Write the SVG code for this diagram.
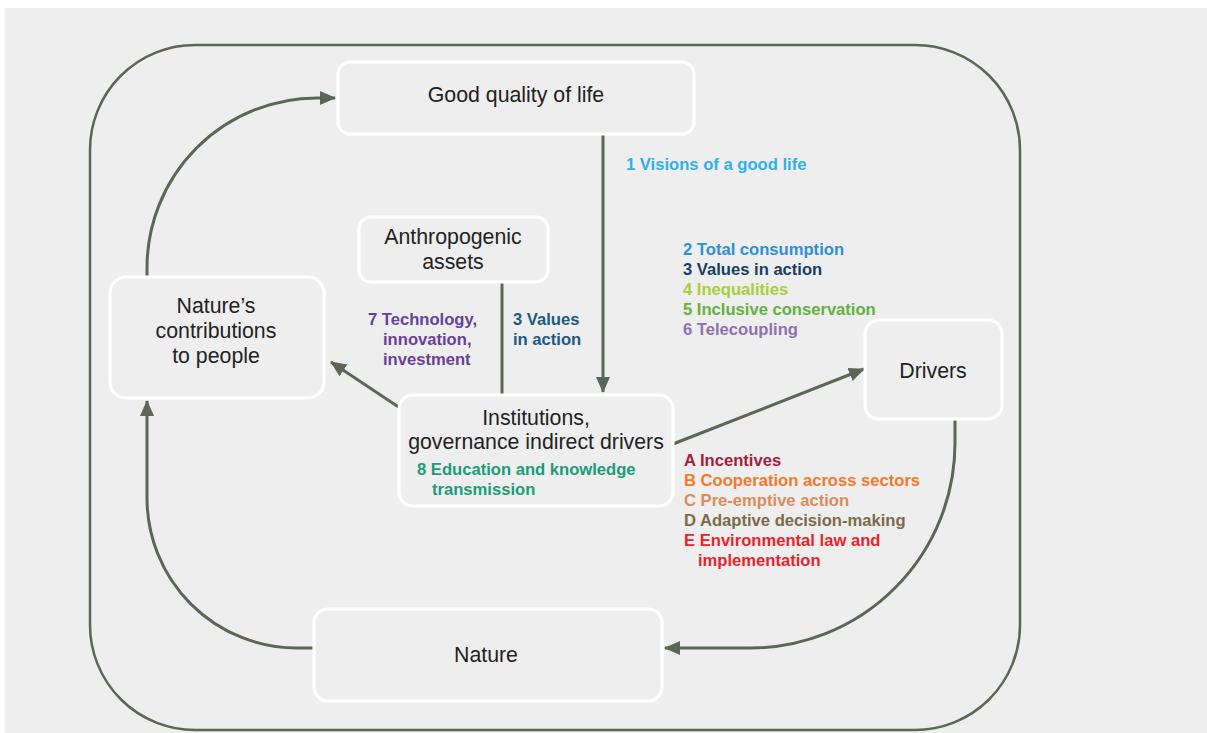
<svg xmlns="http://www.w3.org/2000/svg" width="1207" height="733" viewBox="0 0 1207 733">
<style>
.node rect{fill:#eeeeee;stroke:#ffffff;stroke-width:3}
.nt{font-family:"Liberation Sans",Arial,sans-serif;font-size:21.3px;fill:#222222;text-anchor:middle}
.lb{font-family:"Liberation Sans",Arial,sans-serif;font-size:16.6px;font-weight:bold}
.con{fill:none;stroke:#5b6657;stroke-width:3}
</style>
<defs>
<marker id="ah" markerUnits="userSpaceOnUse" markerWidth="16" markerHeight="16" viewBox="0 0 16 16" refX="15" refY="8" orient="auto">
<path d="M0,1 L16,8 L0,15 Z" fill="#5b6657"/>
</marker>
</defs>
<rect x="5" y="8" width="1202" height="725" fill="#eeeeee"/>
<rect x="90" y="45" width="930" height="685" rx="105" ry="105" fill="none" stroke="#5b6657" stroke-width="2.5"/>
<g id="connectors">
<path class="con" d="M147,276 L147,268 A170,170 0 0 1 317,98 L335,98" marker-end="url(#ah)"/>
<path class="con" d="M603,135 L603,392" marker-end="url(#ah)"/>
<path class="con" d="M502,282 L502,395"/>
<path class="con" d="M400,408 L331,362" marker-end="url(#ah)"/>
<path class="con" d="M673,444 L864,369" marker-end="url(#ah)"/>
<path class="con" d="M955,419 L955,443 A205,205 0 0 1 750,648 L665,648" marker-end="url(#ah)"/>
<path class="con" d="M314,648 L297,648 A150,150 0 0 1 147,498 L147,401" marker-end="url(#ah)"/>
</g>
<g id="good-quality-of-life" class="node">
<rect x="338" y="62" width="356" height="72" rx="12"/>
<text class="nt" x="516" y="102">Good quality of life</text>
</g>
<g id="anthropogenic-assets" class="node">
<rect x="359" y="217" width="189" height="65" rx="12"/>
<text class="nt" x="453" y="244">Anthropogenic</text>
<text class="nt" x="453" y="269">assets</text>
</g>
<g id="ncp" class="node">
<rect x="110" y="277" width="214" height="121" rx="16"/>
<text class="nt" x="216" y="313">Nature’s</text>
<text class="nt" x="216" y="338">contributions</text>
<text class="nt" x="216" y="363">to people</text>
</g>
<g id="institutions" class="node">
<rect x="399" y="395" width="274" height="111" rx="14"/>
<text class="nt" x="536" y="425">Institutions,</text>
<text class="nt" x="536" y="449">governance indirect drivers</text>
<text class="lb" x="417" y="475" fill="#1a9c7a">8 Education and knowledge</text>
<text class="lb" x="432" y="495" fill="#1a9c7a">transmission</text>
</g>
<g id="drivers" class="node">
<rect x="865" y="320" width="137" height="99" rx="14"/>
<text class="nt" x="933" y="378">Drivers</text>
</g>
<g id="nature" class="node">
<rect x="314" y="609" width="348" height="92" rx="14"/>
<text class="nt" x="486" y="662">Nature</text>
</g>
<g id="labels">
<text class="lb" x="626" y="170" fill="#2eb1e8">1 Visions of a good life</text>
<text class="lb" x="683" y="255" fill="#2f8fd3">2 Total consumption</text>
<text class="lb" x="683" y="275" fill="#173f5f">3 Values in action</text>
<text class="lb" x="683" y="295" fill="#a8cf38">4 Inequalities</text>
<text class="lb" x="683" y="315" fill="#63b043">5 Inclusive conservation</text>
<text class="lb" x="683" y="335" fill="#8b73b2">6 Telecoupling</text>
<text class="lb" x="368" y="325" fill="#6a3f98">7 Technology,</text>
<text class="lb" x="383" y="345" fill="#6a3f98">innovation,</text>
<text class="lb" x="383" y="365" fill="#6a3f98">investment</text>
<text class="lb" x="513" y="325" fill="#1b5a82">3 Values</text>
<text class="lb" x="513" y="345" fill="#1b5a82">in action</text>
<text class="lb" x="684" y="466" fill="#a31d3c">A Incentives</text>
<text class="lb" x="684" y="486" fill="#f27a2b">B Cooperation across sectors</text>
<text class="lb" x="684" y="506" fill="#dc8c5c">C Pre-emptive action</text>
<text class="lb" x="684" y="526" fill="#7b6a4c">D Adaptive decision-making</text>
<text class="lb" x="684" y="546" fill="#e8232b">E Environmental law and</text>
<text class="lb" x="698" y="566" fill="#e8232b">implementation</text>
</g>
</svg>
